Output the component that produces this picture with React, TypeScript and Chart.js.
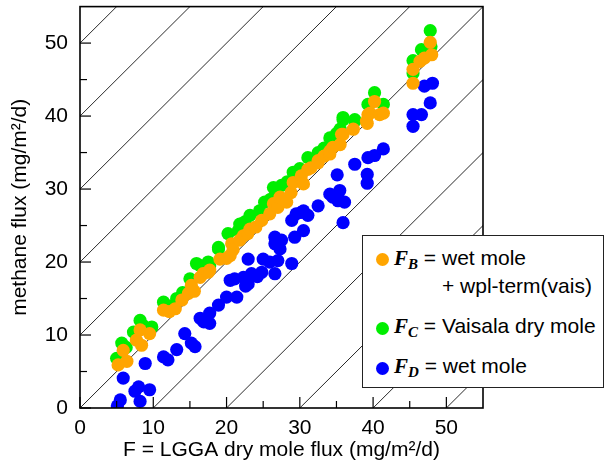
import React, { useEffect, useRef } from "react";
import { Chart, registerables } from "chart.js";

Chart.register(...registerables);

// F_B = wet mole + wpl-term(vais)  (orange)
const fbX = [5.2, 5.9, 6.4, 7.7, 8.2, 8.4, 9.5, 11.4, 12.2, 13.0, 13.9, 14.8, 15.2, 15.6, 16.4, 16.8, 17.5, 17.7, 19.1, 20.0, 20.5, 20.7, 20.9, 21.8, 22.3, 22.9, 23.2, 24.0, 24.8, 25.9, 26.4, 27.0, 27.3, 28.2, 28.8, 29.1, 30.2, 30.5, 31.1, 31.5, 32.5, 32.5, 33.3, 34.1, 34.1, 34.5, 35.5, 35.7, 35.9, 37.3, 39.1, 39.2, 39.3, 39.6, 40.2, 40.9, 41.4, 45.45, 45.45, 46.4, 47.0, 47.8, 48.0];
const fbY = [5.9, 7.9, 6.4, 9.3, 10.7, 8.6, 10.2, 13.4, 13.2, 13.6, 14.8, 15.7, 16.8, 16.0, 17.9, 18.4, 18.6, 18.9, 20.4, 20.5, 20.9, 22.5, 21.7, 23.0, 23.6, 23.9, 24.5, 24.8, 25.7, 26.6, 28.0, 27.5, 28.9, 28.2, 29.5, 30.9, 31.8, 30.7, 32.7, 32.9, 33.6, 33.9, 34.5, 34.8, 35.2, 35.7, 36.1, 37.5, 37.5, 38.2, 39.3, 39.0, 40.2, 40.4, 42.0, 40.2, 40.4, 44.5, 46.4, 47.5, 47.95, 50.1, 48.4];

// F_C = Vaisala dry mole  (green)
const fcX = [5.0, 5.7, 6.3, 7.3, 8.2, 8.6, 9.8, 11.4, 12.5, 13.2, 14.0, 15.0, 15.9, 16.4, 17.5, 17.7, 18.9, 18.9, 20.2, 21.6, 21.8, 22.5, 23.2, 24.5, 25.2, 26.0, 26.4, 27.5, 28.3, 29.1, 30.0, 31.1, 32.5, 33.3, 34.1, 35.0, 35.5, 35.9, 35.9, 37.5, 37.5, 39.3, 40.2, 41.4, 45.45, 45.45, 46.6, 47.9, 47.8];
const fcY = [6.8, 8.9, 8.3, 10.4, 12.0, 11.3, 11.1, 14.5, 14.0, 15.0, 15.8, 17.7, 19.8, 19.5, 20.0, 19.5, 21.8, 22.0, 23.9, 24.3, 25.2, 25.5, 26.4, 27.0, 28.2, 28.6, 30.2, 30.5, 31.0, 32.3, 32.8, 34.3, 35.0, 35.6, 37.0, 37.6, 38.2, 39.8, 39.5, 39.3, 39.5, 41.6, 43.2, 41.6, 45.9, 47.6, 49.1, 49.5, 51.7];

// F_D = wet mole  (blue)
const fdX = [5.1, 5.5, 5.9, 7.5, 8.0, 8.2, 8.9, 9.5, 11.4, 12.0, 13.2, 14.3, 15.2, 15.7, 16.4, 16.9, 17.7, 17.7, 18.9, 20.0, 20.5, 21.1, 21.4, 22.3, 22.6, 22.95, 22.95, 23.4, 24.2, 24.8, 25.0, 25.9, 26.6, 26.6, 26.6, 27.0, 27.3, 27.5, 28.9, 28.9, 29.3, 29.5, 30.2, 30.5, 30.5, 31.1, 32.5, 34.1, 34.5, 35.1, 35.2, 35.45, 35.9, 36.1, 37.5, 39.2, 39.2, 39.3, 40.2, 41.4, 45.45, 45.45, 46.6, 47.8, 47.0, 48.1];
const fdY = [0.3, 1.1, 4.1, 2.3, 2.9, 0.9, 6.1, 2.5, 7.0, 6.6, 8.0, 10.2, 8.9, 8.4, 12.3, 11.8, 11.6, 13.0, 14.1, 15.2, 17.5, 17.7, 15.2, 17.9, 16.7, 17.0, 20.4, 18.4, 18.0, 18.6, 20.4, 20.0, 18.4, 22.5, 23.4, 20.2, 21.8, 23.0, 19.8, 25.7, 23.4, 26.6, 26.8, 24.3, 27.0, 26.4, 27.7, 29.3, 28.9, 31.95, 28.4, 29.8, 25.4, 28.2, 33.4, 30.8, 32.0, 34.3, 34.6, 35.5, 38.6, 40.2, 40.2, 41.8, 44.1, 44.5];

// 1:1 reference lines y = x + offset
const diagOffsets = [-50, -40, -30, -20, -10, 0, 10, 20, 30, 40, 50];
const majorTicks = [0, 10, 20, 30, 40, 50];
const minorTicks = [5, 15, 25, 35, 45];

const FONT = "'Liberation Sans', Arial, Helvetica, sans-serif";
const SERIF = "'Liberation Serif', 'Times New Roman', serif";

const framePlugin = {
  id: "frame",
  afterDatasetsDraw(chart: any) {
    const { ctx, chartArea: a, scales } = chart;
    const xs = scales.x;
    const ys = scales.y;
    ctx.save();
    ctx.strokeStyle = "#000";
    ctx.lineWidth = 1.2;
    const drawTick = (v: number, len: number) => {
      const px = xs.getPixelForValue(v);
      ctx.beginPath();
      ctx.moveTo(px, a.bottom);
      ctx.lineTo(px, a.bottom - len);
      ctx.stroke();
      const py = ys.getPixelForValue(v);
      ctx.beginPath();
      ctx.moveTo(a.left, py);
      ctx.lineTo(a.left + len, py);
      ctx.stroke();
    };
    majorTicks.forEach((v) => drawTick(v, 11));
    minorTicks.forEach((v) => drawTick(v, 7));
    ctx.lineWidth = 1.6;
    ctx.strokeRect(a.left, a.top, a.right - a.left, a.bottom - a.top);
    ctx.restore();
  },
};

function toPts(xs: number[], ys: number[]) {
  return xs.map((x, i) => ({ x, y: ys[i] }));
}

const zeroPad = (s: any) => {
  s.paddingTop = 0;
  s.paddingBottom = 0;
  s.paddingLeft = 0;
  s.paddingRight = 0;
};

export default function App() {
  const ref = useRef<HTMLCanvasElement>(null);

  useEffect(() => {
    if (!ref.current) return;
    const diagSets = diagOffsets.map((c) => ({
      data: [
        { x: -10, y: -10 + c },
        { x: 70, y: 70 + c },
      ],
      showLine: true,
      borderColor: "#2a2a2a",
      borderWidth: 1,
      pointRadius: 0,
      fill: false,
    }));
    const pointSet = (data: any, color: string) => ({
      data,
      backgroundColor: color,
      borderWidth: 0,
      pointRadius: 6.6,
      pointBorderWidth: 0,
    });
    const chart = new Chart(ref.current, {
      type: "scatter",
      data: {
        datasets: [
          pointSet(toPts(fbX, fbY), "#FFA500"),
          pointSet(toPts(fcX, fcY), "#00EE00"),
          pointSet(toPts(fdX, fdY), "#0000FF"),
          ...diagSets,
        ] as any,
      },
      options: {
        responsive: false,
        animation: false,
        events: [],
        layout: { padding: { left: 0, top: 5, right: 121, bottom: 0 } },
        plugins: {
          legend: { display: false },
          tooltip: { enabled: false },
        },
        scales: {
          x: {
            type: "linear",
            min: 0,
            max: 55,
            grid: { display: false, drawTicks: false },
            border: { display: false },
            ticks: {
              stepSize: 10,
              includeBounds: false,
              color: "#000",
              font: { size: 21, family: FONT },
              padding: 8,
              maxRotation: 0,
            },
            title: {
              display: true,
              text: "F = LGGA dry mole flux (mg/m²/d)",
              color: "#000",
              font: { size: 21, family: FONT },
              padding: { top: 0, bottom: 3 },
            },
            afterFit: (s: any) => {
              s.height = 58;
              zeroPad(s);
            },
          },
          y: {
            type: "linear",
            min: 0,
            max: 55,
            grid: { display: false, drawTicks: false },
            border: { display: false },
            ticks: {
              stepSize: 10,
              includeBounds: false,
              color: "#000",
              font: { size: 21, family: FONT },
              padding: 12,
            },
            title: {
              display: true,
              text: "methane flux (mg/m²/d)",
              color: "#000",
              font: { size: 21, family: FONT },
              padding: { top: 8, bottom: 0 },
            },
            afterFit: (s: any) => {
              s.width = 80;
              zeroPad(s);
            },
          },
        },
      } as any,
      plugins: [framePlugin],
    });
    return () => chart.destroy();
  }, []);

  const rowStyle: React.CSSProperties = {
    position: "absolute",
    whiteSpace: "nowrap",
    fontFamily: FONT,
    fontSize: 21,
    lineHeight: "20px",
    color: "#000",
  };
  const fStyle: React.CSSProperties = {
    fontFamily: SERIF,
    fontWeight: "bold",
    fontStyle: "italic",
    fontSize: 21,
  };
  const subStyle: React.CSSProperties = {
    fontFamily: SERIF,
    fontWeight: "bold",
    fontStyle: "italic",
    fontSize: 15,
    position: "relative",
    top: 4,
  };
  const dot = (color: string, cy: number): React.CSSProperties => ({
    position: "absolute",
    left: 13,
    top: cy - 6.5,
    width: 13,
    height: 13,
    borderRadius: "50%",
    background: color,
  });

  return (
    <div style={{ position: "absolute", left: 0, top: 0, width: 604, height: 466, background: "#fff" }}>
      <canvas ref={ref} width={604} height={466} style={{ display: "block" }} />
      <div
        style={{
          position: "absolute",
          left: 362,
          top: 235,
          width: 242,
          height: 153,
          boxSizing: "border-box",
          border: "1.5px solid #222",
          background: "#fff",
        }}
      >
        <div style={dot("#FFA500", 23)} />
        <div style={{ ...rowStyle, left: 31, top: 12 }}>
          <span style={fStyle}>F</span>
          <span style={subStyle}>B</span>
          {" = wet mole"}
        </div>
        <div style={{ ...rowStyle, left: 79, top: 40 }}>+ wpl-term(vais)</div>
        <div style={dot("#00EE00", 92)} />
        <div style={{ ...rowStyle, left: 31, top: 80 }}>
          <span style={fStyle}>F</span>
          <span style={subStyle}>C</span>
          {" = Vaisala dry mole"}
        </div>
        <div style={dot("#0000FF", 132)} />
        <div style={{ ...rowStyle, left: 31, top: 120 }}>
          <span style={fStyle}>F</span>
          <span style={subStyle}>D</span>
          {" = wet mole"}
        </div>
      </div>
    </div>
  );
}
